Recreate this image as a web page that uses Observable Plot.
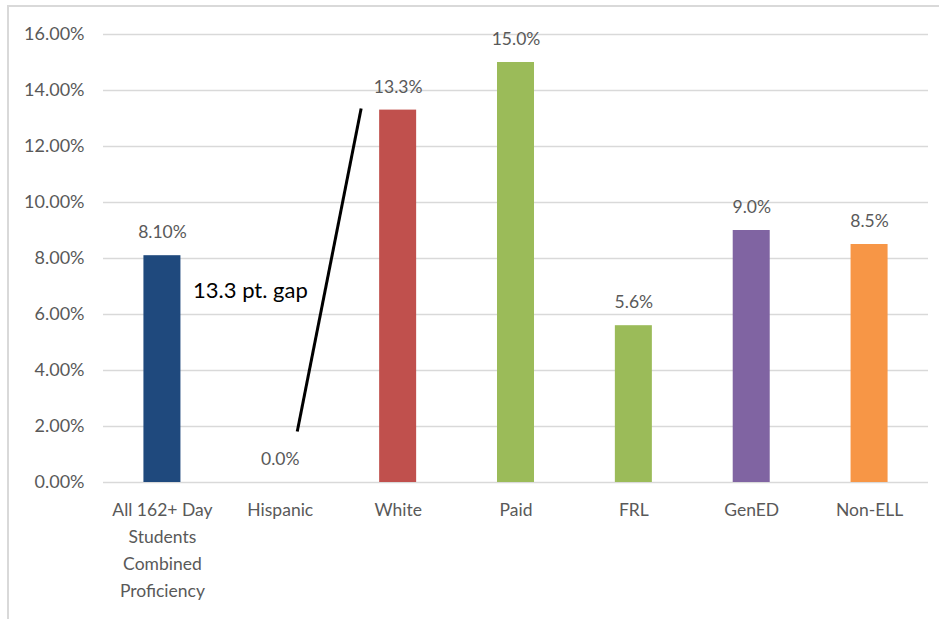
<!DOCTYPE html>
<html>
<head>
<meta charset="utf-8">
<script src="https://cdn.jsdelivr.net/npm/d3@7"></script>
<script src="https://cdn.jsdelivr.net/npm/@observablehq/plot@0.6"></script>
<style>
  html, body { margin: 0; padding: 0; background: #fff; }
  #wrap { position: relative; width: 939px; height: 619px; overflow: hidden; }
  #border { position: absolute; left: 7px; top: 5px; width: 940px; height: 620px; border: 2px solid #d9d9d9; box-sizing: border-box; }
  #chart { position: absolute; left: 0; top: 0; }
</style>
</head>
<body>
<div id="wrap"><div id="border"></div><div id="chart"></div></div>
<script>
const categories = ["All 162+ Day\nStudents\nCombined\nProficiency", "Hispanic", "White", "Paid", "FRL", "GenED", "Non-ELL"];
const values = [8.10, 0.0, 13.3, 15.0, 5.6, 9.0, 8.5];
const valueLabels = ["8.10%", "0.0%", "13.3%", "15.0%", "5.6%", "9.0%", "8.5%"];
const colors = ["#1F497D", "#1F497D", "#C0504D", "#9BBB59", "#9BBB59", "#8064A2", "#F79646"];
const yTicks = [0, 2, 4, 6, 8, 10, 12, 14, 16];
// annotation: gap line from Hispanic side up to White side (x in category index units, y in %)
const gapLineX = [1.144, 1.686];
const gapLineY = [1.82, 13.36];
const gapText = "13.3 pt. gap";
const gapTextPos = {x: 0.26, y: 6.85};

const data = categories.map((c, i) => ({i, c, v: values[i], label: valueLabels[i], color: colors[i]}));
const halfBar = 0.157;

const font = "Lato, 'Open Sans', sans-serif";
const chart = Plot.plot({
  width: 939,
  height: 619,
  marginLeft: 103,
  marginRight: 11,
  marginTop: 34,
  marginBottom: 137,
  style: {fontFamily: font, fontSize: "17px", color: "#595959", background: "transparent"},
  x: {type: "linear", domain: [-0.5, 6.5]},
  y: {domain: [0, 16]},
  marks: [
    Plot.gridY(yTicks, {stroke: "#d9d9d9", strokeOpacity: 1, strokeWidth: 1.5}),
    Plot.axisY(yTicks, {tickSize: 0, tickPadding: 19, tickFormat: d => d.toFixed(2) + "%", label: null, fontSize: 18, fill: "#595959"}),
    Plot.axisX(d3.range(categories.length), {tickSize: 0, tickPadding: 14, tickFormat: i => categories[i], label: null, lineHeight: 1.55, fontSize: 17.5, fill: "#595959", textAnchor: "middle"}),
    Plot.rectY(data, {x1: d => d.i - halfBar, x2: d => d.i + halfBar, y1: 0, y2: "v", fill: "color"}),
    Plot.text(data, {x: "i", y: "v", text: "label", dy: -23, fontSize: 17.5, fill: "#595959"}),
    Plot.link([0], {x1: gapLineX[0], y1: gapLineY[0], x2: gapLineX[1], y2: gapLineY[1], stroke: "#000", strokeWidth: 3}),
    Plot.text([gapText], {x: gapTextPos.x, y: gapTextPos.y, text: d => d, textAnchor: "start", fontSize: 22, fill: "#000"})
  ]
});
document.getElementById("chart").appendChild(chart);
</script>
</body>
</html>
